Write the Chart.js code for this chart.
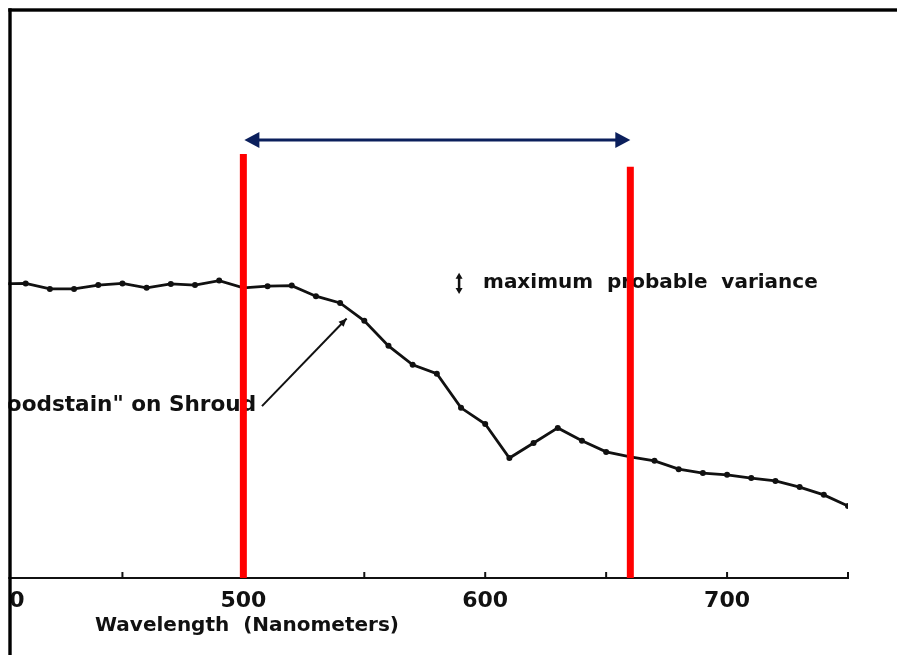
<!DOCTYPE html>
<html><head><meta charset="utf-8">
<script src="https://cdn.jsdelivr.net/npm/chart.js@4/dist/chart.umd.min.js"></script>
<style>html,body{margin:0;padding:0;background:#fff}#wrap{width:897px;height:655px;position:relative}</style>
</head><body><div id="wrap"><canvas id="c"></canvas></div>
<script>
// Wavelength (nm) and relative reflectance (arbitrary units)
const wavelengths = [400,410,420,430,440,450,460,470,480,490,500,510,520,530,540,550,560,570,580,590,600,610,620,630,640,650,660,670,680,690,700,710,720,730,740,750];
const reflectance = [52.7,52.8,51.8,51.8,52.5,52.8,52.0,52.7,52.5,53.3,52.0,52.3,52.4,50.5,49.3,46.1,41.6,38.2,36.6,30.5,27.6,21.5,24.2,26.9,24.6,22.6,21.7,21.0,19.5,18.8,18.5,17.9,17.4,16.3,14.9,12.9];
const tickValues = [400,450,500,550,600,650,700,750];
const labelValues = [400,500,600,700];
const labelTexts = ['400','500','600','700'];
// Highlighted band (red markers) and their heights
const bandEdges = [500,660];
const bandTops = [76.0,73.7];
const bandArrowLevel = [78.5];
// Annotations
const axisTitle = 'Wavelength  (Nanometers)';
const sampleLabel = '"Bloodstain" on Shroud';
const varianceLabel = 'maximum  probable  variance';
const samplePointer = [[507.7,30.8],[542.7,46.5]];
const sampleLabelAt = [505.3,31.0];
const varianceLabelAt = [599.1,52.9];
const varianceSymbol = [589.2,50.9,54.7];

const FONT = '"DejaVu Sans", sans-serif';

function tri(ctx, x, y, ang, len, half){
  ctx.beginPath();
  ctx.moveTo(x,y);
  ctx.lineTo(x - len*Math.cos(ang) + half*Math.sin(ang), y - len*Math.sin(ang) - half*Math.cos(ang));
  ctx.lineTo(x - len*Math.cos(ang) - half*Math.sin(ang), y - len*Math.sin(ang) + half*Math.cos(ang));
  ctx.closePath(); ctx.fill();
}

const sketch = {
  id:'sketch',
  beforeDatasetsDraw(chart){
    const {ctx, scales:{x,y}, chartArea} = chart;
    ctx.save();
    // inward tick marks
    ctx.strokeStyle='#111'; ctx.lineWidth=2;
    tickValues.forEach(v=>{ if(v===400) return; const px=x.getPixelForValue(v);
      ctx.beginPath(); ctx.moveTo(px, chartArea.bottom); ctx.lineTo(px, chartArea.bottom-6); ctx.stroke(); });
    // labels
    ctx.fillStyle='#111';
    ctx.font='bold 20px '+FONT; ctx.textBaseline='middle'; ctx.textAlign='left';
    ctx.fillText(varianceLabel, x.getPixelForValue(varianceLabelAt[0]), y.getPixelForValue(varianceLabelAt[1]));
    ctx.font='bold 21.6px '+FONT; ctx.textAlign='right';
    ctx.fillText(sampleLabel, x.getPixelForValue(sampleLabelAt[0]), y.getPixelForValue(sampleLabelAt[1]));
    ctx.font='bold 20px '+FONT; ctx.textAlign='center';
    ctx.fillText(axisTitle, x.getPixelForValue(501.5), chartArea.bottom+48);
    // variance symbol
    const sx=x.getPixelForValue(varianceSymbol[0]), sy1=y.getPixelForValue(varianceSymbol[1]), sy2=y.getPixelForValue(varianceSymbol[2]);
    ctx.lineWidth=2.5; ctx.beginPath(); ctx.moveTo(sx,sy1-3); ctx.lineTo(sx,sy2+3); ctx.stroke();
    tri(ctx,sx,sy1,Math.PI/2,6,3.5); tri(ctx,sx,sy2,-Math.PI/2,6,3.5);
    // pointer
    const p0x=x.getPixelForValue(samplePointer[0][0]), p0y=y.getPixelForValue(samplePointer[0][1]);
    const p1x=x.getPixelForValue(samplePointer[1][0]), p1y=y.getPixelForValue(samplePointer[1][1]);
    ctx.lineWidth=2; ctx.beginPath(); ctx.moveTo(p0x,p0y); ctx.lineTo(p1x,p1y); ctx.stroke();
    tri(ctx,p1x,p1y,Math.atan2(p1y-p0y,p1x-p0x),8,3.5);
    ctx.restore();
  },
  afterDraw(chart){
    const {ctx, scales:{x,y}} = chart;
    ctx.save();
    // navy double arrow across band
    const ax1=x.getPixelForValue(bandEdges[0])+1, ax2=x.getPixelForValue(bandEdges[1]), ay=y.getPixelForValue(bandArrowLevel[0]);
    ctx.strokeStyle='#0b1f5c'; ctx.fillStyle='#0b1f5c'; ctx.lineWidth=3;
    ctx.beginPath(); ctx.moveTo(ax1+10,ay); ctx.lineTo(ax2-10,ay); ctx.stroke();
    tri(ctx,ax1,ay,Math.PI,15,8); tri(ctx,ax2,ay,0,15,8);
    // frame (scan crop edge)
    ctx.fillStyle='#fff'; ctx.fillRect(0,0,8.3,655); ctx.fillRect(0,0,897,8.3);
    ctx.fillStyle='#000'; ctx.fillRect(8.3,8.3,3.4,655); ctx.fillRect(8.3,8.3,897,3.4);
    ctx.restore();
  }
};

const bandSets = bandEdges.map((e,i)=>({
  data:[{x:e,y:0},{x:e,y:bandTops[i]}], borderColor:'#ff0000', borderWidth:7,
  borderCapStyle:'butt', pointRadius:0, order:0, clip:false
}));

new Chart(document.getElementById('c'),{
  type:'line',
  data:{datasets:[...bandSets,{
    data:wavelengths.map((w,i)=>({x:w,y:reflectance[i]})),
    borderColor:'#111', borderWidth:2.8, pointRadius:3, pointBackgroundColor:'#111',
    pointBorderWidth:0, tension:0, order:1
  }]},
  options:{
    responsive:true, maintainAspectRatio:false, animation:false,
    layout:{padding:{left:1.5,right:49,top:20,bottom:0}, autoPadding:false},
    plugins:{legend:{display:false}, tooltip:{enabled:false}},
    scales:{
      x:{type:'linear', min:400, max:750,
        afterBuildTicks(s){ s.ticks = tickValues.map(v=>({value:v})); },
        afterFit(s){ s.height = 77; s.paddingLeft = 0; s.paddingRight = 0; },
        grid:{display:false, drawTicks:false},
        border:{display:true, color:'#111', width:2},
        ticks:{autoSkip:false, maxRotation:0, padding:10, color:'#111',
          font:{family:FONT, size:22, weight:'bold'},
          callback(v){ const i=labelValues.indexOf(v); return i>=0?labelTexts[i]:''; }}
      },
      y:{display:false, min:0, max:100}
    }
  },
  plugins:[sketch]
});
</script></body></html>
